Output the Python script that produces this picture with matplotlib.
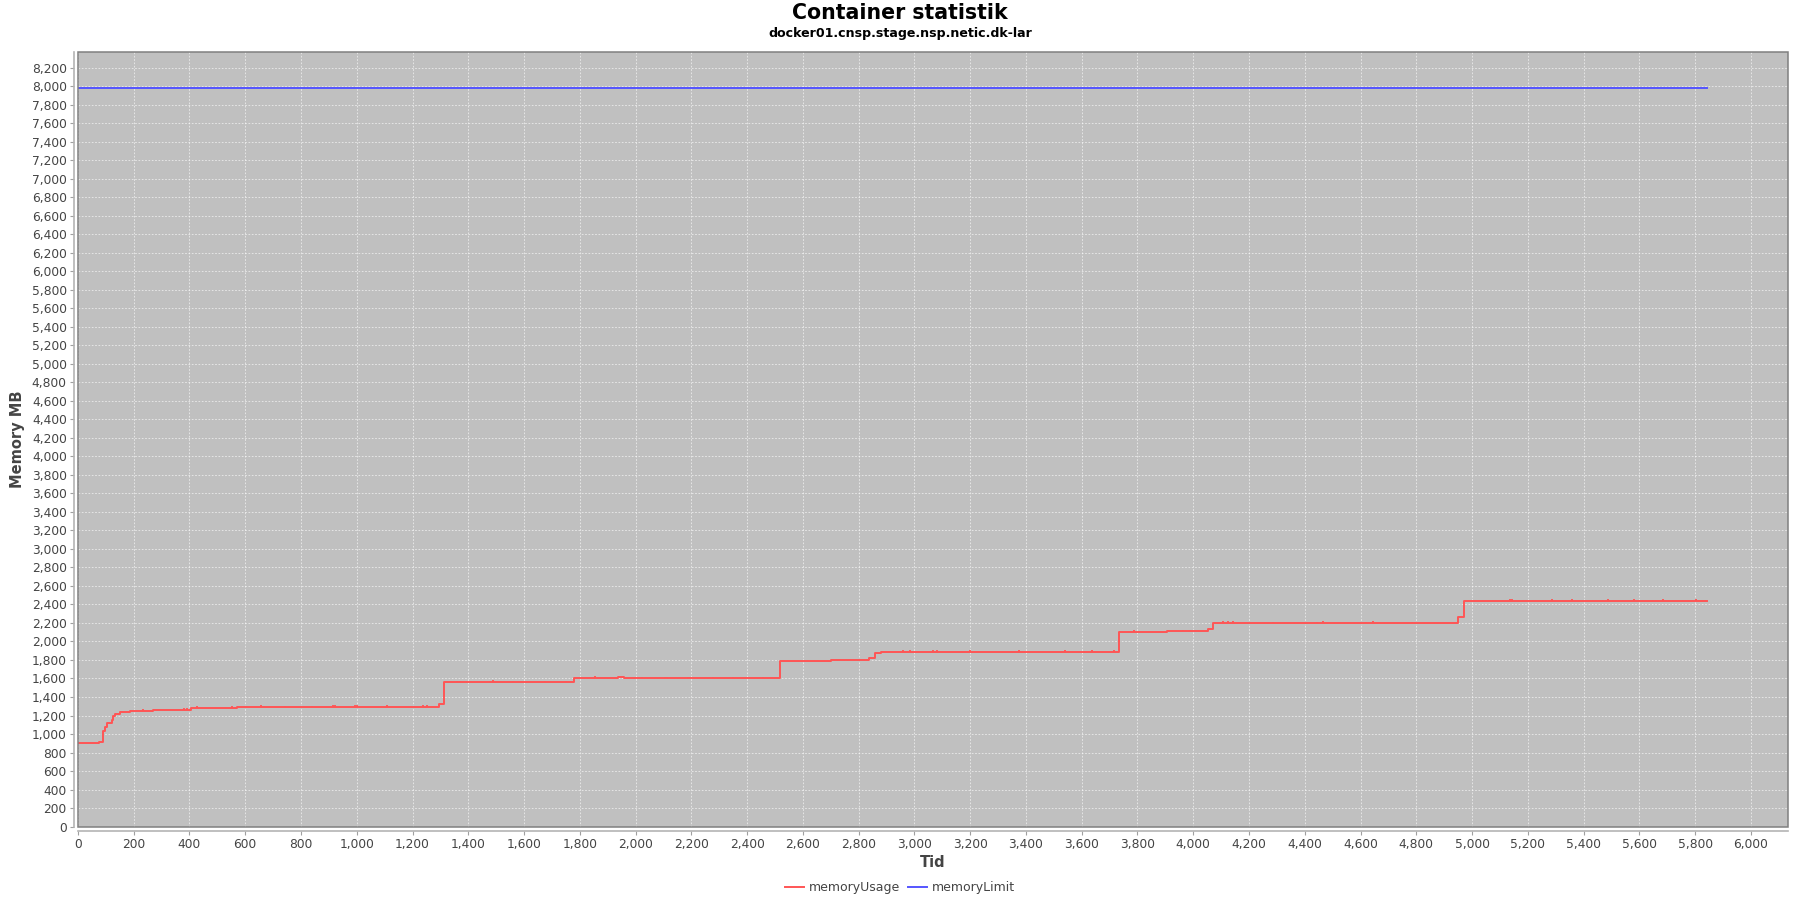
import numpy as np
import matplotlib.pyplot as plt
from matplotlib.ticker import MultipleLocator, FuncFormatter
from matplotlib.patches import Rectangle


# memoryUsage (Tid, MB)
usage_x = [0, 75, 91, 97, 103, 121, 127, 133, 151, 187, 270, 404, 569, 900,
           1296, 1314, 1780, 1937, 1959, 2519, 2700, 2838, 2860, 2879,
           3734, 3906, 4052, 4070, 4950, 4972, 5842]
usage_y = [905, 915, 1030, 1080, 1116, 1150, 1195, 1213, 1235, 1252, 1263,
           1281, 1287, 1294, 1324, 1558, 1600, 1620, 1600, 1792, 1798, 1826,
           1870, 1888, 2104, 2108, 2139, 2197, 2265, 2441, 2441]

# small upward blips on the usage line
spike_x = [234, 380, 392, 426, 551, 657, 669, 743, 838, 915, 922, 994, 1002,
           1108, 1238, 1252, 1360, 1370, 1478, 1489, 1559, 1675, 1749, 1854,
           2022, 2105, 2113, 2189, 2195, 2276, 2348, 2456, 2960, 2985, 3067,
           3080, 3200, 3375, 3540, 3636, 3716, 3788, 3963, 3988, 4107, 4125,
           4143, 4285, 4443, 4465, 4620, 4644, 4784, 5137, 5145, 5288, 5357,
           5489, 5582, 5686, 5802]
spike_rise = [22, 18, 18, 25, 18, 22, 18, 18, 18, 18, 22, 18, 18,
              18, 18, 22, 18, 18, 18, 22, 18, 18, 18, 22,
              18, 18, 18, 18, 18, 18, 18, 18, 18, 22, 18,
              22, 18, 18, 18, 18, 18, 18, 18, 18, 22, 22,
              22, 18, 18, 22, 18, 22, 18, 18, 18, 18, 22,
              18, 18, 18, 18]

# memoryLimit (constant)
limit_x = [0, 5842]
limit_y = [7975, 7975]

red = "#FF5555"
blue = "#5555FF"
text_col = "#444444"

fig = plt.figure(figsize=(18, 9), dpi=100)
ax = fig.add_axes([0.0433, 0.0816, 0.95, 0.861])
ax.set_facecolor("#C0C0C0")

ax.plot(usage_x, usage_y, color=red, lw=1.4, drawstyle="steps-post",
        label="memoryUsage", zorder=3)
idx = np.searchsorted(usage_x, spike_x, side="right") - 1
base = np.array(usage_y)[idx]
ax.vlines(spike_x, base, base + np.array(spike_rise), color=red, lw=1.3, zorder=3)
ax.plot(limit_x, limit_y, color=blue, lw=1.4, label="memoryLimit", zorder=3)

ax.set_xlim(0, 6133)
ax.set_ylim(0, 8373)
ax.xaxis.set_major_locator(MultipleLocator(200))
ax.yaxis.set_major_locator(MultipleLocator(200))
fmt = FuncFormatter(lambda v, p: f"{int(v):,}")
ax.xaxis.set_major_formatter(fmt)
ax.yaxis.set_major_formatter(fmt)

ax.grid(True, color="white", lw=0.6, linestyle=(0, (2, 2)), alpha=0.7)
ax.set_axisbelow(True)

# JFreeChart-like axes: axis lines offset from the plot outline
for s in ["top", "right"]:
    ax.spines[s].set_visible(False)
for s in ["left", "bottom"]:
    ax.spines[s].set_position(("outward", 3))
    ax.spines[s].set_color("#B4B4B4")
    ax.spines[s].set_linewidth(1.2)
ax.add_patch(Rectangle((0, 0), 1, 1, transform=ax.transAxes, fill=False,
                       edgecolor="#808080", lw=1.1, zorder=5, clip_on=False))

ax.tick_params(axis="both", length=3, width=0.8, color="#A0A0A0",
               labelsize=8.8, labelcolor=text_col, pad=2)

ax.set_xlabel("Tid", fontsize=10.5, fontweight="bold", color=text_col, labelpad=3)
ax.set_ylabel("Memory MB", fontsize=10.5, fontweight="bold", color=text_col, labelpad=5)

fig.text(0.5, 0.986, "Container statistik", ha="center", va="center",
         fontsize=14.8, fontweight="bold", color="black")
fig.text(0.5, 0.963, "docker01.cnsp.stage.nsp.netic.dk-lar", ha="center",
         va="center", fontsize=9.1, fontweight="bold", color="black")

fig.legend(loc="lower center", bbox_to_anchor=(0.5, -0.006), ncol=2, frameon=False,
           fontsize=9, handlelength=1.5, handletextpad=0.4, columnspacing=0.6,
           labelcolor=text_col)

fig.savefig("out.png", dpi=100, facecolor="white")
